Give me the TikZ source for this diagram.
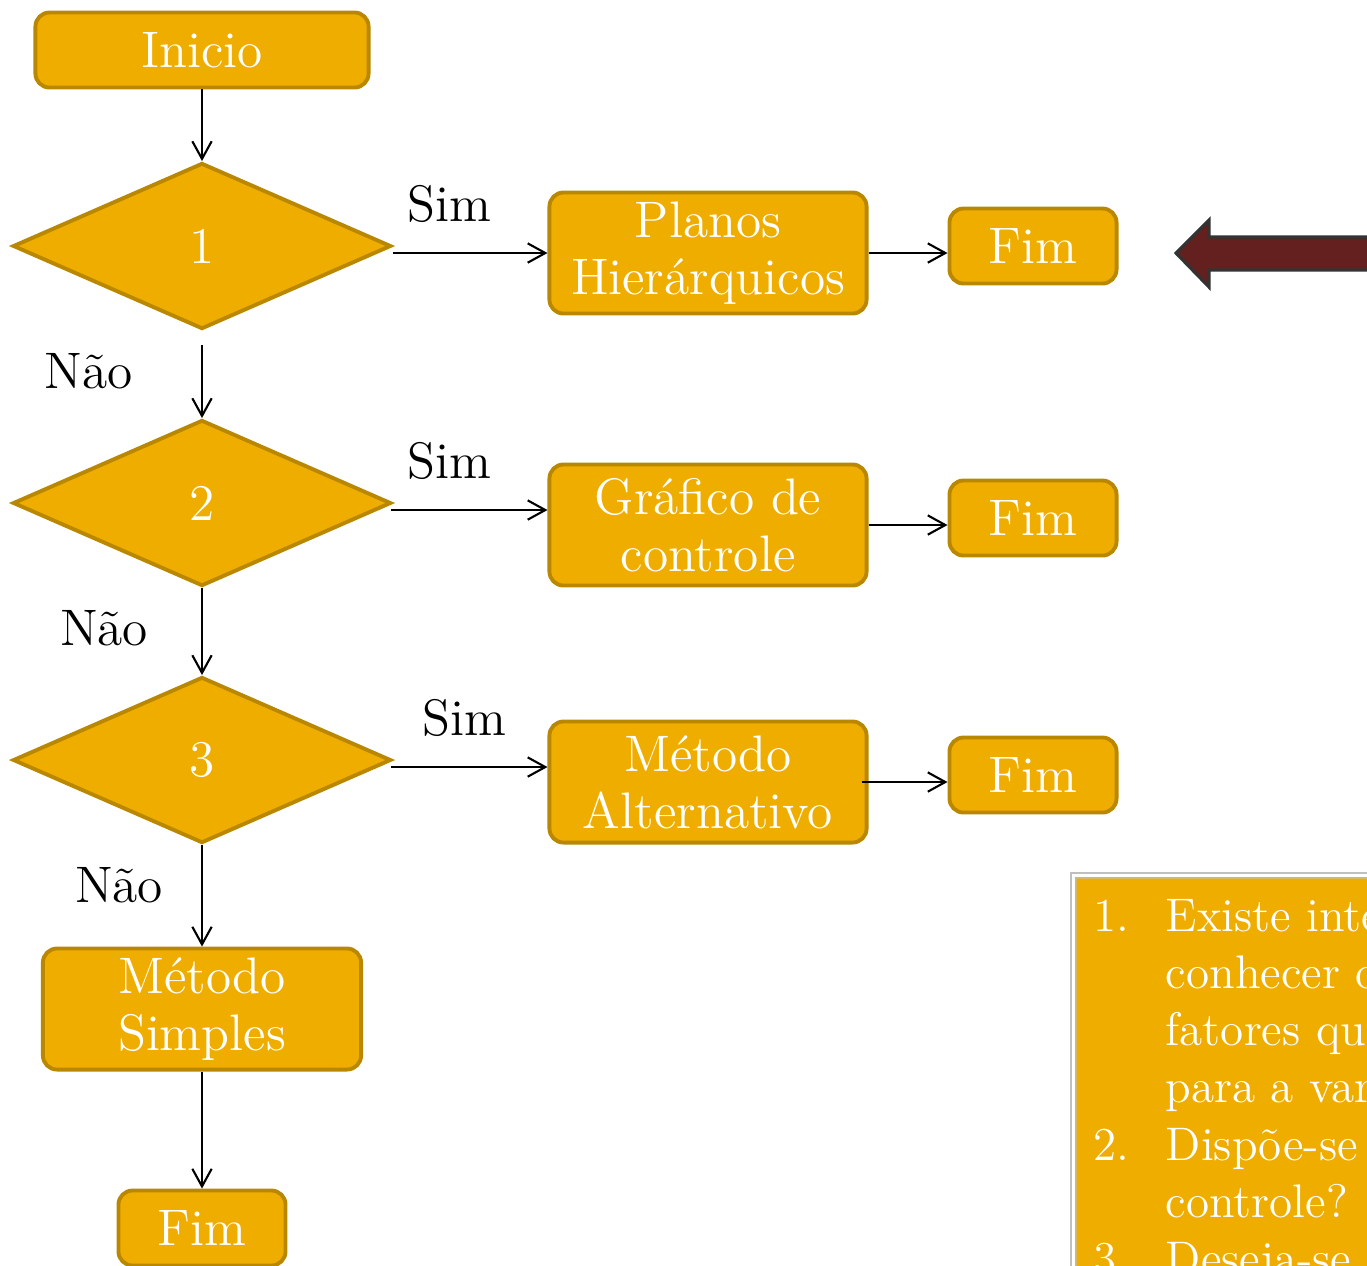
\documentclass[tikz,border=0pt]{standalone}
\usetikzlibrary{shapes.geometric,arrows.meta}
\definecolor{boxfill}{HTML}{EFAD00}
\definecolor{boxline}{HTML}{B98700}
\definecolor{bigarrow}{HTML}{63201F}
\begin{document}
\begin{tikzpicture}[x=0.01cm,y=-0.01cm,
  every node/.style={font=\fontsize{14.6}{16.3}\selectfont},
  proc/.style={draw=boxline,fill=boxfill,line width=1.1pt,rounded corners=4pt,
    text=white,align=center,inner sep=0pt},
  cond/.style={diamond,draw=boxline,fill=boxfill,line width=1.1pt,text=white,
    inner sep=0pt,minimum width=3.78cm,minimum height=1.66cm},
  flow/.style={-{Straight Barb[length=5pt,width=5.5pt]},line width=0.6pt},
  listline/.style={anchor=base west,text=white,inner sep=0pt,
    font=\fontsize{13.4}{16}\selectfont}]
\clip (0,0) rectangle (1367,1265);

\draw (202,50) node[proc,minimum width=3.33cm,minimum height=0.75cm] (inicio) {Inicio};
\draw (202,246) node[cond] (d1) {1};
\draw (202,503) node[cond] (d2) {2};
\draw (202,760) node[cond] (d3) {3};
\draw (202,1009) node[proc,minimum width=3.18cm,minimum height=1.21cm] (simples) {Método\\Simples};
\draw (202,1228) node[proc,minimum width=1.67cm,minimum height=0.75cm] (fim4) {Fim};

\draw (708,253) node[proc,minimum width=3.17cm,minimum height=1.21cm] (planos) {Planos\\Hierárquicos};
\draw (708,525) node[proc,minimum width=3.17cm,minimum height=1.21cm] (grafico) {Gráfico de\\controle};
\draw (708,782) node[proc,minimum width=3.17cm,minimum height=1.21cm] (altern) {Método\\Alternativo};

\draw (1033,246) node[proc,minimum width=1.67cm,minimum height=0.75cm] (fim1) {Fim};
\draw (1033,518) node[proc,minimum width=1.67cm,minimum height=0.75cm] (fim2) {Fim};
\draw (1033,775) node[proc,minimum width=1.67cm,minimum height=0.75cm] (fim3) {Fim};

\draw (449,204) node (sim1) {Sim};
\draw (449,461) node (sim2) {Sim};
\draw (464,718) node (sim3) {Sim};
\draw (89,371) node (nao1) {Não};
\draw (104,628) node (nao2) {Não};
\draw (119,885) node (nao3) {Não};

\coordinate (out1) at (202,345);
\coordinate (yes2) at (391,510);
\coordinate (yes3) at (391,767);

\draw [flow] (inicio.south) -- (d1.north);
\draw [flow] (out1) -- (d2.north);
\draw [flow] (d2.south) -- (d3.north);
\draw [flow] (d3.south) -- (simples.north);
\draw [flow] (simples.south) -- (fim4.north);

\draw [flow] (d1.east |- planos.west) -- (planos.west);
\draw [flow] (yes2) -- (yes2 -| grafico.west);
\draw [flow] (yes3) -- (yes3 -| altern.west);
\draw [flow] (planos.east) -- (planos.east -| fim1.west);
\draw [flow] (grafico.east) -- (grafico.east -| fim2.west);
\draw [flow] ([xshift=-2pt]altern.east) -- (altern.east -| fim3.west);

% seta grande
\draw [fill=bigarrow,draw=black!80,line width=0.9pt]
  (1176,253) -- (1209,220) -- (1209,237) -- (1400,237) -- (1400,270)
  -- (1209,270) -- (1209,287) -- cycle;

% quadro das perguntas
\draw [fill=white,draw=black!25,line width=0.4pt] (1071,873) rectangle (1420,1300);
\draw [fill=boxfill,draw=boxline!60,line width=0.5pt] (1076,878) rectangle (1420,1300);
\draw (1093,931) node[listline] (q1) {\makebox[20.5pt][l]{1.}Existe interesse em};
\draw (1093,988) node[listline] (q1b) {\hspace*{20.5pt}conhecer os};
\draw (1093,1045) node[listline] (q1c) {\hspace*{20.5pt}fatores que};
\draw (1093,1102) node[listline] (q1d) {\hspace*{20.5pt}para a variação?};
\draw (1093,1160) node[listline] (q2) {\makebox[20.5pt][l]{2.}Dispõe-se de gráfico};
\draw (1093,1217) node[listline] (q2b) {\hspace*{20.5pt}controle?};
\draw (1093,1274) node[listline] (q3) {\makebox[20.5pt][l]{3.}Deseja-se};
\end{tikzpicture}
\end{document}
